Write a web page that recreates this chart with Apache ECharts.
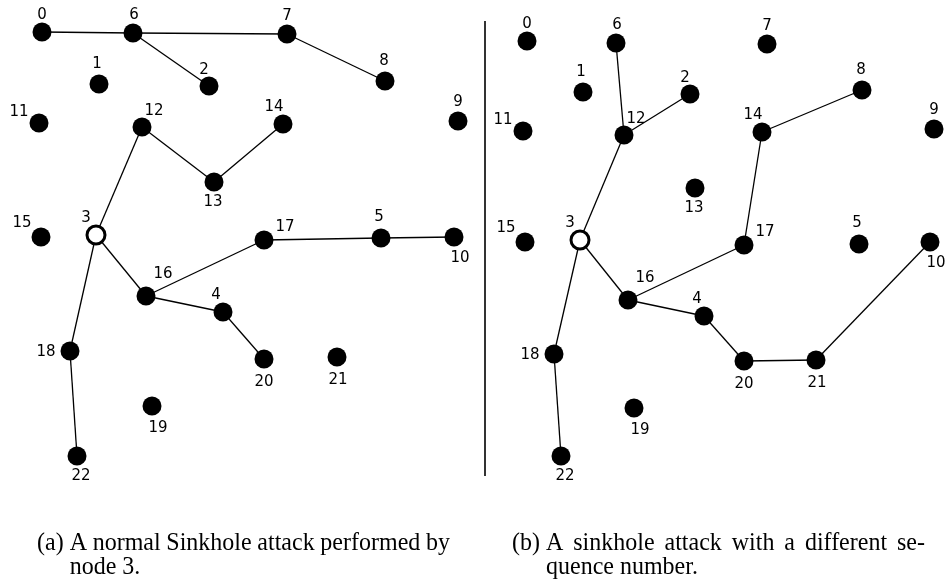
<!DOCTYPE html>
<html>
<head>
<meta charset="utf-8">
<script src="https://cdn.jsdelivr.net/npm/echarts@6/dist/echarts.min.js"></script>
<style>
  html, body { margin: 0; padding: 0; background: #fff; }
  #chart { width: 945px; height: 582px; }
</style>
</head>
<body>
<div id="chart"></div>
<script>
// Sensor nodes 0..22; node 3 is the sinkhole
const nodeIds = ['0','1','2','3','4','5','6','7','8','9','10','11','12','13','14','15','16','17','18','19','20','21','22'];
const sinkNode = '3';

// (a) normal sinkhole attack: node positions (field units)
const posAx = [42, 99, 209, 96, 223, 381, 133, 287, 385, 458, 454, 39, 142, 214, 283, 41, 146, 264, 70, 152, 264, 337, 77];
const posAy = [32, 84, 86, 235, 312, 238, 33, 34, 81, 121, 237, 123, 127, 182, 124, 237, 296, 240, 351, 406, 359, 357, 456];
const linksA = [[0,6],[6,7],[6,2],[7,8],[12,3],[12,13],[13,14],[3,16],[3,18],[16,17],[17,5],[5,10],[16,4],[4,20],[18,22]];

// (b) sinkhole attack with a different sequence number
const posBx = [47, 103, 210, 100, 224, 379, 136, 287, 382, 454, 450, 43, 144, 215, 282, 45, 148, 264, 74, 154, 264, 336, 81];
const posBy = [41, 92, 94, 240, 316, 244, 43, 44, 90, 129, 242, 131, 135, 188, 132, 242, 300, 245, 354, 408, 361, 360, 456];
const linksB = [[6,12],[12,2],[12,3],[14,8],[14,17],[3,16],[3,18],[16,17],[16,4],[4,20],[20,21],[21,10],[18,22]];

// Captions: sub-figure tag, then the wrapped caption lines
const captionA = { tag: '(a)', lines: ['A normal Sinkhole attack performed by', 'node 3.'] };
const captionB = { tag: '(b)', lines: ['A sinkhole attack with a different se-', 'quence number.'] };

// Where each node's number sits relative to its dot
const labelOffsets = {
  '0': [0,-17], '1': [-2,-20], '2': [-5,-16], '3': [-10,-17], '4': [-7,-17], '5': [-2,-21],
  '6': [1,-18], '7': [0,-18], '8': [-1,-20], '9': [0,-19], '10': [6,21], '11': [-20,-11],
  '12': [12,-16], '13': [-1,20], '14': [-9,-17], '15': [-19,-14], '16': [17,-22], '17': [21,-13],
  '18': [-24,1], '19': [6,22], '20': [0,23], '21': [1,23], '22': [4,20]
};

function buildNodes(xs, ys) {
  return nodeIds.map((id, i) => {
    const item = {
      name: id,
      value: [xs[i], ys[i]],
      label: { offset: labelOffsets[id] }
    };
    if (id === sinkNode) {
      item.symbolSize = 18;
      item.itemStyle = { color: '#fff', borderColor: '#000', borderWidth: 3 };
    }
    return item;
  });
}
function buildLinks(pairs) {
  return pairs.map(p => ({ source: String(p[0]), target: String(p[1]) }));
}

function graphSeries(idx, xs, ys, pairs) {
  return {
    type: 'graph',
    coordinateSystem: 'cartesian2d',
    xAxisIndex: idx,
    yAxisIndex: idx,
    layout: 'none',
    roam: false,
    symbol: 'circle',
    symbolSize: 19,
    itemStyle: { color: '#000', borderWidth: 0 },
    lineStyle: { color: '#000', width: 1.3, opacity: 1, curveness: 0 },
    label: {
      show: true,
      position: 'inside',
      formatter: '{b}',
      color: '#000',
      fontSize: 15,
      fontFamily: 'DejaVu Sans'
    },
    emphasis: { disabled: true },
    data: buildNodes(xs, ys),
    links: buildLinks(pairs)
  };
}

// Caption layout: words spread to fill the column width (justified)
const capFont = '24px "Liberation Serif"';
const measureCtx = document.createElement('canvas').getContext('2d');
measureCtx.font = capFont;
function word(text, x, y) {
  return {
    type: 'text', silent: true,
    x: x, y: y, scaleY: 1.06,
    style: { text: text, x: 0, y: 0, font: capFont, fill: '#000', verticalAlign: 'middle', align: 'left' }
  };
}
function lineTexts(text, x, y, width, justify) {
  const words = text.split(' ');
  const widths = words.map(w => measureCtx.measureText(w).width);
  const total = widths.reduce((a, b) => a + b, 0);
  const gap = justify && words.length > 1 ? (width - total) / (words.length - 1) : measureCtx.measureText(' ').width;
  const out = [];
  let cx = x;
  words.forEach((w, i) => {
    out.push(word(w, cx, y));
    cx += widths[i] + gap;
  });
  return out;
}
function captionTexts(cap, x, y1, y2, width) {
  const indent = measureCtx.measureText(cap.tag + ' ').width;
  return [word(cap.tag, x, y1)]
    .concat(lineTexts(cap.lines[0], x + indent, y1, width - indent, true))
    .concat(lineTexts(cap.lines[1], x + indent, y2, width - indent, false));
}

const colW = 413;
const graphics = [
  { type: 'line', silent: true, shape: { x1: 485, y1: 21, x2: 485, y2: 476 }, style: { stroke: '#333', lineWidth: 2 } }
]
  .concat(captionTexts(captionA, 37, 543, 567, colW))
  .concat(captionTexts(captionB, 512, 543, 567, colW));

const chart = echarts.init(document.getElementById('chart'), null, { renderer: 'canvas' });
chart.setOption({
  animation: false,
  backgroundColor: '#fff',
  grid: [
    { left: 0, top: 0, width: 480, height: 500 },
    { left: 480, top: 0, width: 465, height: 500 }
  ],
  xAxis: [
    { type: 'value', gridIndex: 0, min: 0, max: 480, show: false },
    { type: 'value', gridIndex: 1, min: 0, max: 465, show: false }
  ],
  yAxis: [
    { type: 'value', gridIndex: 0, min: 0, max: 500, inverse: true, show: false },
    { type: 'value', gridIndex: 1, min: 0, max: 500, inverse: true, show: false }
  ],
  series: [
    graphSeries(0, posAx, posAy, linksA),
    graphSeries(1, posBx, posBy, linksB)
  ],
  graphic: graphics
});
</script>
</body>
</html>
